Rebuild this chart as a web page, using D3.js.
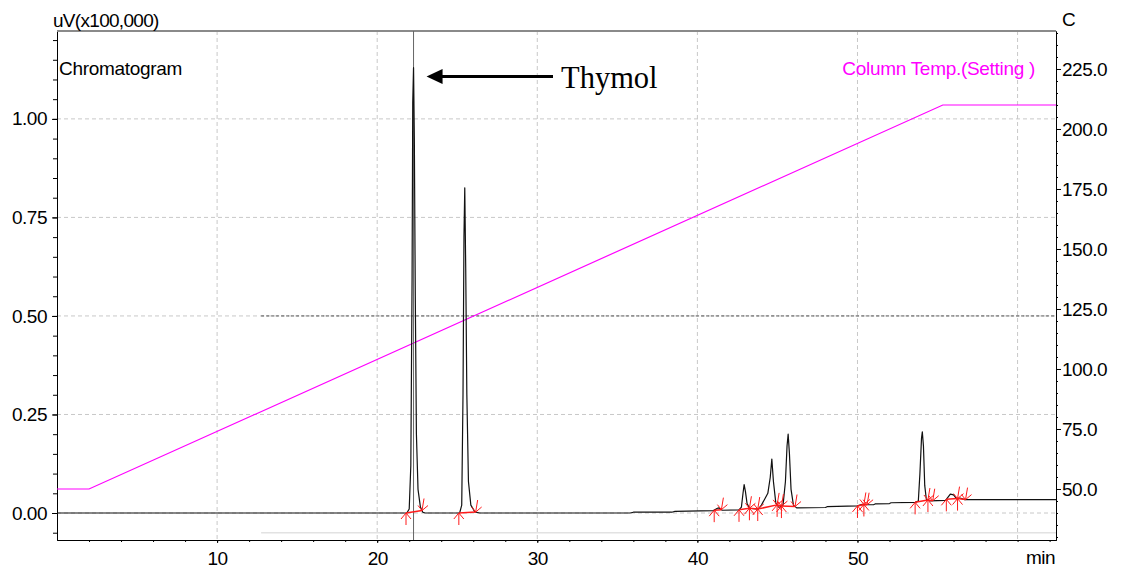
<!DOCTYPE html>
<html>
<head>
<meta charset="utf-8">
<script src="https://cdn.jsdelivr.net/npm/d3@7"></script>
<style>
  body { margin: 0; background: #fff; }
  svg text { font-family: "Liberation Sans", Arial, sans-serif; }
</style>
</head>
<body>
<svg id="chart"></svg>
<script>
// chromatogram signal (min, uV x100,000)
let sigTime = [0, 21.85, 22.0, 22.1, 22.18, 22.22, 22.27, 22.32, 22.38, 22.45, 22.55, 22.7, 22.85, 23.0,
  25.15, 25.28, 25.36, 25.42, 25.47, 25.53, 25.6, 25.7, 25.85, 26.1, 26.4,
  35.8, 36.0, 38.4, 38.6, 41.0, 41.25, 41.35, 41.55,
  42.6, 42.75, 42.85, 42.92, 43.0, 43.1, 43.25, 43.8,
  44.0, 44.2, 44.4, 44.55, 44.65, 44.75, 44.9, 45.1,
  45.35, 45.5, 45.6, 45.67, 45.75, 45.85, 46.0, 46.2,
  48.0, 48.1, 50.0, 50.3, 50.6, 51.0, 51.1, 52.0, 52.1,
  53.6, 53.8, 53.9, 54.0, 54.05, 54.12, 54.2, 54.3, 54.5,
  55.5, 55.8, 56.0, 56.2, 56.4, 56.7, 62.4]
let sigValue = [0, 0, 0.01, 0.12, 0.6, 1.04, 1.13, 0.95, 0.55, 0.2, 0.06, 0.015, 0.002, 0,
  0, 0.02, 0.3, 0.7, 0.825, 0.62, 0.3, 0.08, 0.02, 0.003, 0,
  0, 0.002, 0.002, 0.004, 0.006, 0.012, 0.013, 0.007,
  0.008, 0.015, 0.05, 0.072, 0.055, 0.025, 0.012, 0.01,
  0.02, 0.035, 0.05, 0.09, 0.137, 0.08, 0.025, 0.014,
  0.02, 0.08, 0.17, 0.2, 0.15, 0.06, 0.02, 0.013,
  0.014, 0.016, 0.018, 0.022, 0.021, 0.021, 0.023, 0.024, 0.026,
  0.027, 0.03, 0.1, 0.19, 0.206, 0.17, 0.07, 0.035, 0.031,
  0.032, 0.048, 0.046, 0.036, 0.038, 0.034, 0.034]

// column temperature program (min, C)
let tempTime = [0, 2, 55.33, 62.4]
let tempValue = [50, 50, 210, 210]

// integration marks: peak start / end times (min)
let intStart = [21.8, 25.1, 41.05, 42.6, 43.25, 43.77, 44.98, 45.25, 50.0, 50.4, 53.6, 54.4, 55.55, 56.25]
let intEnd = [22.8, 26.15, 41.5, 43.25, 43.77, 44.98, 45.25, 46.1, 50.4, 50.6, 54.4, 54.7, 56.25, 56.75]

let thymolTime = 22.27

// tick labels
let xTicks = [10, 20, 30, 40, 50]
let xGrid = [10, 20, 30, 40, 50, 60]
let yTicks = [0, 0.25, 0.5, 0.75, 1.0]
let tTicks = [50, 75, 100, 125, 150, 175, 200, 225]

let width = 1123
let height = 569
let pLeft = 57, pRight = 1056, pTop = 31, pBottom = 540

let svg = d3.select('#chart').attr('width', width).attr('height', height)

let xScale, yScale, tScale, sigAt

let generateScales = () => {
    xScale = d3.scaleLinear().domain([0, 62.4]).range([pLeft, pRight])
    yScale = d3.scaleLinear().domain([-0.0685, 1.223]).range([pBottom, pTop])
    tScale = d3.scaleLinear().domain([28.75, 240.83]).range([pBottom, pTop])
    // piecewise linear lookup of the signal at any time
    sigAt = d3.scaleLinear().domain(sigTime).range(sigValue).clamp(true)
}

let drawGrid = () => {
    let g = svg.append('g').attr('stroke', '#c8c8c8').attr('stroke-dasharray', '4,3')
    g.selectAll('.vg').data(xGrid).enter().append('line')
       .attr('x1', d => xScale(d)).attr('x2', d => xScale(d))
       .attr('y1', pTop).attr('y2', pBottom)
    g.selectAll('.hg').data(yTicks).enter().append('line')
       .attr('x1', pLeft).attr('x2', pRight)
       .attr('y1', d => yScale(d)).attr('y2', d => yScale(d))

    // darker dashed piece and faint line seen on the scan
    svg.append('line')
       .attr('x1', xScale(12.75)).attr('x2', pRight)
       .attr('y1', yScale(0.5)).attr('y2', yScale(0.5))
       .attr('stroke', '#555').attr('stroke-dasharray', '3,2')
    svg.append('line')
       .attr('x1', xScale(12.75)).attr('x2', pRight)
       .attr('y1', yScale(-0.05)).attr('y2', yScale(-0.05))
       .attr('stroke', '#e2e2e2').attr('stroke-width', 1.5)
}

let generateAxes = () => {
    let styleAxis = (g) => {
        g.attr('font-size', 19)
        g.selectAll('text').attr('fill', '#000').attr('letter-spacing', '-0.5')
        g.selectAll('line, path').attr('stroke', '#000')
    }

    // left
    svg.append('g').attr('transform', 'translate(' + pLeft + ',0)')
       .call(d3.axisLeft(yScale).tickValues(d3.range(-0.05, 1.201, 0.05)).tickFormat('').tickSize(4).tickSizeOuter(0))
       .call(styleAxis)
    svg.append('g').attr('transform', 'translate(' + pLeft + ',0)')
       .call(d3.axisLeft(yScale).tickValues(yTicks).tickFormat(d3.format('.2f')).tickSize(5).tickPadding(5).tickSizeOuter(0))
       .call(styleAxis)

    // right
    svg.append('g').attr('transform', 'translate(' + pRight + ',0)')
       .call(d3.axisRight(tScale).tickValues(d3.range(30, 241, 5)).tickFormat('').tickSize(2).tickSizeOuter(0))
       .call(styleAxis)
    svg.append('g').attr('transform', 'translate(' + pRight + ',0)')
       .call(d3.axisRight(tScale).tickValues(tTicks).tickFormat(d3.format('.1f')).tickSize(5).tickPadding(1).tickSizeOuter(0))
       .call(styleAxis)

    // bottom
    svg.append('g').attr('transform', 'translate(0,' + pBottom + ')')
       .call(d3.axisBottom(xScale).tickValues(d3.range(2, 63, 2)).tickFormat('').tickSize(2).tickSizeOuter(0))
       .call(styleAxis)
    svg.append('g').attr('transform', 'translate(0,' + pBottom + ')')
       .call(d3.axisBottom(xScale).tickValues(xTicks).tickSize(3).tickPadding(9).tickSizeOuter(0))
       .call(styleAxis)

    // top frame
    svg.append('line').attr('x1', pLeft).attr('x2', pRight).attr('y1', pTop).attr('y2', pTop)
       .attr('stroke', '#8a8a8a').attr('stroke-width', 2)
}

let drawLines = () => {
    svg.append('path')
       .datum(tempTime.map((t, i) => [t, tempValue[i]]))
       .attr('fill', 'none').attr('stroke', '#ff00ff').attr('stroke-width', 1.2)
       .attr('d', d3.line().x(d => xScale(d[0])).y(d => tScale(d[1])))

    // cursor through the thymol peak
    svg.append('line')
       .attr('x1', xScale(thymolTime)).attr('x2', xScale(thymolTime))
       .attr('y1', pTop).attr('y2', pBottom)
       .attr('stroke', '#666').attr('stroke-width', 1)

    svg.append('path')
       .datum(sigTime.map((t, i) => [t, sigValue[i]]))
       .attr('fill', 'none').attr('stroke', '#111').attr('stroke-width', 1.2)
       .attr('stroke-linejoin', 'round')
       .attr('d', d3.line().x(d => xScale(d[0])).y(d => yScale(d[1])))
}

let drawMarks = () => {
    let g = svg.append('g').attr('stroke', '#ff1a1a').attr('fill', 'none').attr('stroke-width', 1)

    g.selectAll('.base').data(intStart).enter().append('line')
       .attr('x1', d => xScale(d)).attr('y1', d => yScale(sigAt(d)))
       .attr('x2', (d, i) => xScale(intEnd[i])).attr('y2', (d, i) => yScale(sigAt(intEnd[i])))
       .attr('stroke-width', 1.5)

    // up arrows at peak start
    g.selectAll('.up').data(intStart).enter().append('path')
       .attr('d', d => {
           let x = xScale(d), y = yScale(sigAt(d))
           return 'M' + x + ',' + (y + 12) + 'L' + x + ',' + y +
                  'M' + (x - 5) + ',' + (y + 6) + 'L' + x + ',' + y + 'L' + (x + 5) + ',' + (y + 6)
       })

    // down arrows at peak end
    g.selectAll('.down').data(intEnd).enter().append('path')
       .attr('d', d => {
           let x = xScale(d), y = yScale(sigAt(d))
           return 'M' + (x + 2) + ',' + (y - 12) + 'L' + x + ',' + y +
                  'M' + (x - 4) + ',' + (y - 5) + 'L' + x + ',' + y + 'L' + (x + 6) + ',' + (y - 5)
       })
}

let drawLabels = () => {
    svg.append('text').attr('x', 53).attr('y', 27).attr('font-size', 19).attr('letter-spacing', '-0.7')
       .text('uV(x100,000)')
    svg.append('text').attr('x', 1062).attr('y', 26).attr('font-size', 19).text('C')
    svg.append('text').attr('x', 59).attr('y', 75).attr('font-size', 19).attr('letter-spacing', '-0.3')
       .text('Chromatogram')
    svg.append('text').attr('x', 1035).attr('y', 75).attr('font-size', 19).attr('letter-spacing', '-0.3')
       .attr('text-anchor', 'end').attr('fill', '#ff00ff')
       .text('Column Temp.(Setting )')

    // thymol annotation
    let tipX = xScale(thymolTime) + 13
    svg.append('line').attr('x1', tipX + 14).attr('x2', 553).attr('y1', 76.5).attr('y2', 76.5)
       .attr('stroke', '#000').attr('stroke-width', 3)
    svg.append('path')
       .attr('d', 'M' + tipX + ',76.5L' + (tipX + 16) + ',69L' + (tipX + 16) + ',84Z')
       .attr('fill', '#000')
    svg.append('text').attr('x', 561).attr('y', 88)
       .style('font-family', '"Liberation Serif", "Times New Roman", serif').attr('font-size', 30.5)
       .text('Thymol')

    svg.append('text').attr('x', 1055).attr('y', 564).attr('font-size', 19).attr('text-anchor', 'end')
       .attr('letter-spacing', '-0.5').text('min')
}

generateScales()
drawGrid()
generateAxes()
drawLines()
drawMarks()
drawLabels()
</script>
</body>
</html>
